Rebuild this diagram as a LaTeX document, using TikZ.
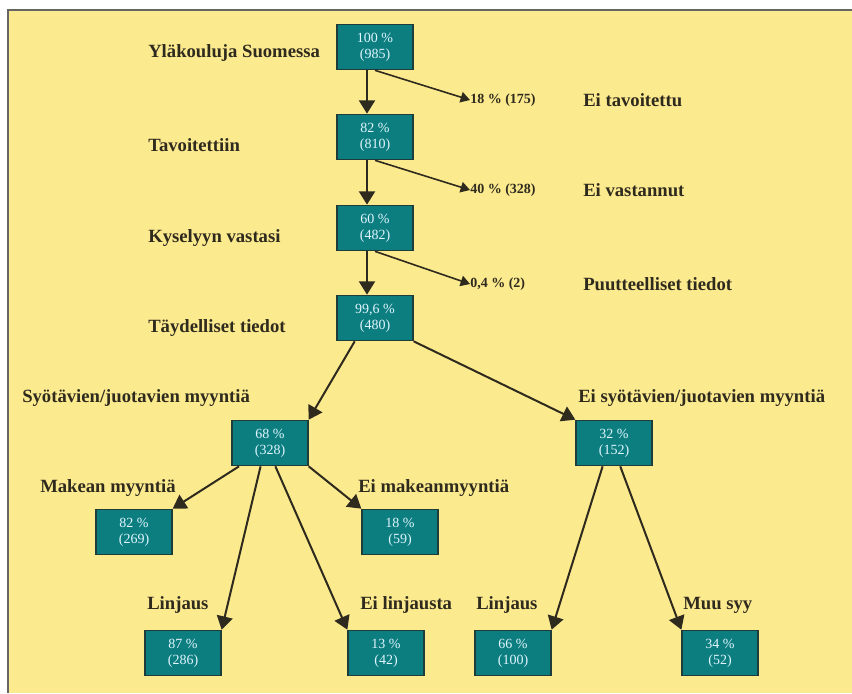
\documentclass[tikz,border=0pt]{standalone}
\usepackage{fontspec}
\setmainfont{Liberation Serif}
\usetikzlibrary{arrows.meta}
\definecolor{tausta}{HTML}{FCEA8E}
\definecolor{laatikko}{HTML}{0C7E80}
\definecolor{reuna}{HTML}{1E3C3A}
\definecolor{teksti}{HTML}{2E2A1E}
\tikzstyle{osuus} = [
  draw=reuna,
  fill=laatikko,
  line width=1pt,
  rectangle,
  minimum width=57pt,
  minimum height=34pt,
  inner sep=1pt,
  align=center,
  text=white!88!cyan,
  font=\fontsize{10.5}{12}\selectfont,
]
\tikzstyle{selite} = [
  anchor=west,
  inner sep=0pt,
  text=teksti,
  font=\fontsize{14}{16}\selectfont\bfseries,
]
\tikzstyle{pieni} = [
  anchor=west,
  inner sep=0pt,
  text=teksti,
  font=\fontsize{10.5}{12}\selectfont\bfseries,
]
\tikzstyle{nuoli} = [
  -{Triangle[width=12pt,length=10pt]},
  line width=1.5pt,
  color=teksti,
]
\tikzstyle{sivunuoli} = [
  -{Triangle[width=8pt,length=7pt]},
  line width=1.2pt,
  color=teksti,
]

\begin{document}
\begin{tikzpicture}[
    x=0.75pt,
    y=-0.75pt,
  ]
  \useasboundingbox (0,0) rectangle (852,693);
  \fill[tausta] (8,10) rectangle (852,693);
  \draw[line width=2pt, color=black!60] (8,693) -- (8,10) -- (852,10);
  % laatikot
  \node[osuus] (kaikki) at (375,47) {100 \%\\(985)};
  \node[osuus] (tavoitettu) at (375,137) {82 \%\\(810)};
  \node[osuus] (vastasi) at (375,228) {60 \%\\(482)};
  \node[osuus] (taydet) at (375,318) {99,6 \%\\(480)};
  \node[osuus] (myynti) at (270,443) {68 \%\\(328)};
  \node[osuus] (eimyynti) at (614,443) {32 \%\\(152)};
  \node[osuus] (makea) at (134,532) {82 \%\\(269)};
  \node[osuus] (eimakea) at (400,532) {18 \%\\(59)};
  \node[osuus] (linjaus) at (183,653) {87 \%\\(286)};
  \node[osuus] (eilinjaus) at (386,653) {13 \%\\(42)};
  \node[osuus] (linjaus2) at (513,653) {66 \%\\(100)};
  \node[osuus] (muusyy) at (720,653) {34 \%\\(52)};
  % selitteet
  \node[selite] (s1) at (148,53) {Yläkouluja Suomessa};
  \node[selite] (s2) at (148,145) {Tavoitettiin};
  \node[selite] (s3) at (148,238) {Kyselyyn vastasi};
  \node[selite] (s4) at (148,328) {Täydelliset tiedot};
  \node[selite] (s5) at (22,398) {Syötävien/juotavien myyntiä};
  \node[selite] (s6) at (578,398) {Ei syötävien/juotavien myyntiä};
  \node[selite] (s7) at (40,488) {Makean myyntiä};
  \node[selite] (s8) at (358,488) {Ei makeanmyyntiä};
  \node[selite] (s9) at (147,605) {Linjaus};
  \node[selite] (s10) at (360,605) {Ei linjausta};
  \node[selite] (s11) at (476,605) {Linjaus};
  \node[selite] (s12) at (683,605) {Muu syy};
  \node[selite] (s13) at (583,100) {Ei tavoitettu};
  \node[selite] (s14) at (583,190) {Ei vastannut};
  \node[selite] (s15) at (583,284) {Puutteelliset tiedot};
  % pois jaaneet
  \node[pieni] (pois1) at (470,100) {18 \% (175)};
  \node[pieni] (pois2) at (470,190) {40 \% (328)};
  \node[pieni] (pois3) at (470,284) {0,4 \% (2)};
  % nuolet
  \draw[nuoli] ([xshift=-6pt]kaikki.south) -- ([xshift=-6pt]tavoitettu.north);
  \draw[nuoli] ([xshift=-6pt]tavoitettu.south) -- ([xshift=-6pt]vastasi.north);
  \draw[nuoli] ([xshift=-6pt]vastasi.south) -- ([xshift=-6pt]taydet.north);
  \draw[sivunuoli] (kaikki.south) -- (pois1.west);
  \draw[sivunuoli] (tavoitettu.south) -- (pois2.west);
  \draw[sivunuoli] (vastasi.south) -- (pois3.west);
  \draw[nuoli] (taydet.-131) -- (myynti.north east);
  \draw[nuoli] (taydet.south east) -- (eimyynti.north west);
  \draw[nuoli] (myynti.-143) -- (makea.north east);
  \draw[nuoli] (myynti.south east) -- (eimakea.north west);
  \draw[nuoli] (myynti.-112) -- (linjaus.north east);
  \draw[nuoli] (myynti.-77) -- (eilinjaus.north west);
  \draw[nuoli] (eimyynti.-116) -- (linjaus2.north east);
  \draw[nuoli] (eimyynti.-75) -- (muusyy.north west);
\end{tikzpicture}
\end{document}
